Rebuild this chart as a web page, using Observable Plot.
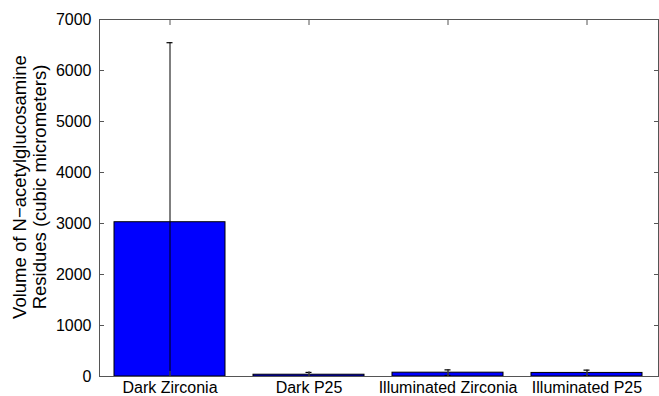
<!DOCTYPE html>
<html><head><meta charset="utf-8">
<script src="https://cdn.jsdelivr.net/npm/d3@7"></script>
<script src="https://cdn.jsdelivr.net/npm/@observablehq/plot@0.6"></script>
<style>body{margin:0;background:#fff} svg{display:block}</style>
</head><body><div id="chart"></div>
<script>
const categories = ["Dark Zirconia", "Dark P25", "Illuminated Zirconia", "Illuminated P25"];
const means = [3025, 35, 75, 70];
const errors = [3520, 45, 55, 55];
const yTicks = [0, 1000, 2000, 3000, 4000, 5000, 6000, 7000];
const yLabel = "Volume of N\u2212acetylglucosamine\nResidues (cubic micrometers)";

const data = categories.map((c, i) => ({category: c, mean: means[i], err: errors[i]}));
const axisColor = "#555";

const plot = Plot.plot({
  width: 659, height: 396,
  marginLeft: 99, marginRight: 1, marginTop: 19, marginBottom: 20,
  style: {fontFamily: "'Liberation Sans', Arial, sans-serif", fontSize: "16px", background: "white", color: "black"},
  x: {domain: categories, paddingInner: 0.2, paddingOuter: 0.1, label: null},
  y: {domain: [0, 7000], label: null},
  marks: [
    Plot.barY(data, {x: "category", y: "mean", fill: "#0000ff", stroke: "#000", strokeWidth: 1}),
    Plot.ruleX(data, {x: "category", y1: d => d.mean - d.err, y2: d => d.mean + d.err, stroke: "#000", strokeWidth: 1, clip: true}),
    Plot.tickY(data, {x: "category", y: d => d.mean + d.err, insetLeft: 52.5, insetRight: 52.5, stroke: "#000", strokeWidth: 1.2, clip: true}),
    Plot.tickY(data, {x: "category", y: d => d.mean - d.err, insetLeft: 52.5, insetRight: 52.5, stroke: "#000", strokeWidth: 1.2, clip: true}),
    Plot.frame({stroke: axisColor, strokeWidth: 1}),
    Plot.axisY({anchor: "left", ticks: yTicks, tickFormat: d3.format("d"), tickSize: -5, tickPadding: 13, stroke: axisColor, fill: "black", label: null}),
    Plot.axisY({anchor: "right", ticks: yTicks, tickSize: -5, stroke: axisColor, fill: "none", label: null}),
    Plot.axisX({anchor: "bottom", tickSize: -5, tickPadding: 10, stroke: axisColor, fill: "black", label: null}),
    Plot.axisX({anchor: "top", tickSize: -5, stroke: axisColor, fill: "none", label: null}),
    Plot.text([yLabel], {frameAnchor: "left", textAnchor: "middle", lineAnchor: "middle", rotate: -90, dx: -70, dy: -11, fontSize: 18.5, lineHeight: 1.08, fill: "black"})
  ]
});
document.getElementById("chart").append(plot);
</script>
</body></html>
